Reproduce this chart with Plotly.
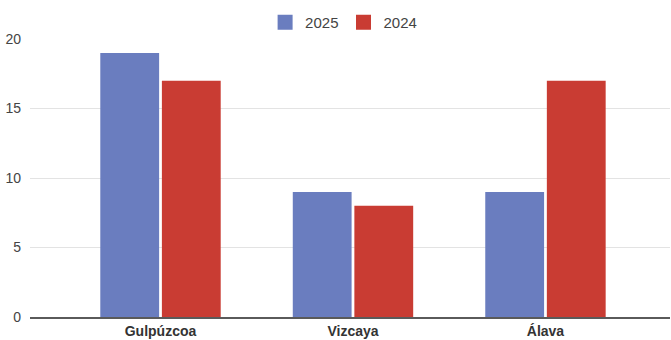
import plotly.graph_objects as go

provinces = ["Gulpúzcoa", "Vizcaya", "Álava"]
values_2025 = [19, 9, 9]
values_2024 = [17, 8, 17]
y_ticks = [0, 5, 10, 15, 20]
series_names = ["2025", "2024"]
series_colors = ["#6a7dbf", "#c93c33"]

fig = go.Figure()
for name, vals, color in zip(series_names, [values_2025, values_2024], series_colors):
    fig.add_trace(go.Bar(name=name, x=provinces, y=vals, marker_color=color,
                         marker_line_width=0, showlegend=False))

# Legend entries drawn as larger square swatches
for name, color in zip(series_names, series_colors):
    fig.add_trace(go.Scatter(name=name, x=[None], y=[None], mode="markers",
                             marker=dict(symbol="square", size=15, color=color),
                             showlegend=True))

fig.update_layout(
    width=671, height=340,
    margin=dict(l=30, r=1, t=39, b=21),
    paper_bgcolor="white", plot_bgcolor="white",
    barmode="group", bargap=0.36, bargroupgap=0.045,
    font=dict(family="Liberation Sans, Arial, sans-serif", size=14, color="#444"),
    legend=dict(orientation="h", x=0.49, xanchor="center", y=1.0, yanchor="bottom",
                font=dict(size=15, color="#444"), itemwidth=30, traceorder="normal"),
    showlegend=True,
)
fig.update_xaxes(range=[-0.678, 2.647], showgrid=False, showline=True,
                 linecolor="#5a5a5a", linewidth=2, ticks="",
                 tickfont=dict(size=14, color="#333", family="Liberation Sans, Arial, sans-serif",
                               weight="bold"))
fig.update_yaxes(range=[0, 20], tickvals=y_ticks, showgrid=True, gridcolor="#e3e3e3",
                 gridwidth=1, zeroline=False, showline=False, ticks="",
                 ticklabelstandoff=8, tickfont=dict(size=14, color="#444"))

fig.write_html("out.html")
